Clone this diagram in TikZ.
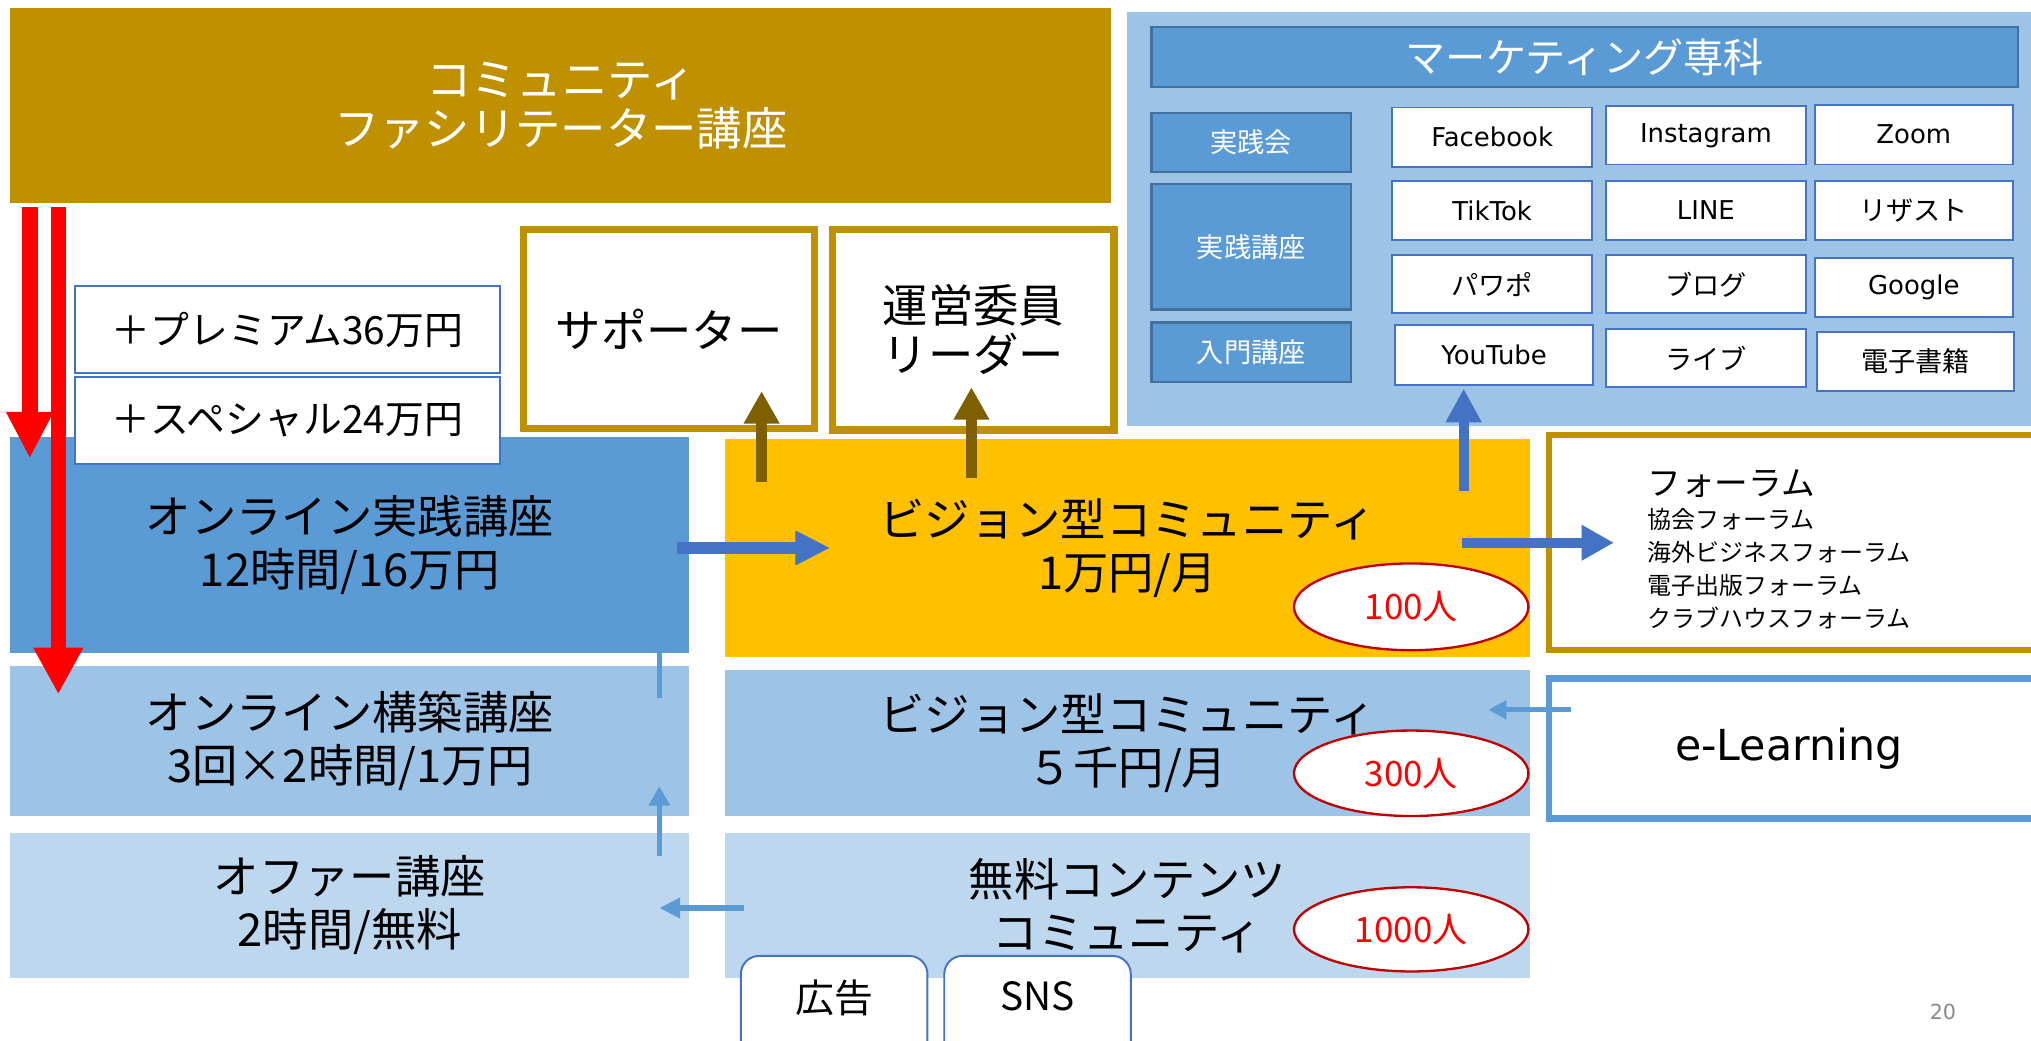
\documentclass[tikz,border=0pt]{standalone}
\usepackage{fontspec}
\setmainfont{Noto Sans CJK JP}
\newfontfamily\lat{DejaVu Sans}
\usetikzlibrary{arrows.meta,shapes.geometric}
\definecolor{cGoldD}{HTML}{BF9000}
\definecolor{cGold}{HTML}{FFC000}
\definecolor{cBlue}{HTML}{5B9BD5}
\definecolor{cBlueL}{HTML}{9DC3E6}
\definecolor{cBlueLL}{HTML}{BDD7EE}
\definecolor{cBlueD}{HTML}{4472C4}
\definecolor{cBlueB}{HTML}{41719C}
\definecolor{cBrown}{HTML}{7F6000}
\definecolor{cRedD}{HTML}{C00000}
\definecolor{cGray}{HTML}{898989}
\newcommand\fsz[2]{\fontsize{#1}{#2}\selectfont}
\begin{document}
\begin{tikzpicture}[x=1pt,y=-1pt,
  bx/.style 2 args={minimum width=#1pt,minimum height=#2pt,inner sep=0pt,outer sep=0pt,align=center},
  bigtxt/.style={font=\fsz{35}{41}},
  plusbox/.style={draw=cBlueD,line width=1.5pt,fill=white,font=\fsz{30}{34}},
  goldframe/.style={draw=cGoldD,line width=5.5pt,fill=white,font=\fsz{35}{38}},
  mkbox/.style={draw=cBlueB,line width=1.8pt,fill=cBlue,text=white},
  gridbox/.style={draw=cBlueD,line width=1.5pt,fill=white},
  jp/.style={font=\fsz{21}{24}},
  en/.style={font=\lat\fsz{20}{24}},
  ell/.style={ellipse,draw=cRedD,line width=1.8pt,fill=white,text=red,font=\fsz{27}{30}},
  pill/.style={draw=cBlueD,line width=1.5pt,fill=white,rounded corners=14pt,font=\fsz{30}{34}},
  bigarrow/.style={line width=#1pt},
]
\useasboundingbox (0,0) rectangle (1568,803);

% top title
\node[bx={850}{151},fill=cGoldD,text=white,font=\fsz{35}{38}] (top) at (433,81.5) {コミュニティ\\ファシリテーター講座};

% left column
\node[bx={524}{167},fill=cBlue,bigtxt] (jissen) at (270,420.5) {オンライン実践講座\\12時間/16万円};
\node[bx={524}{116},fill=cBlueL,bigtxt] (kouchiku) at (270,572) {オンライン構築講座\\3回×2時間/1万円};
\node[bx={524}{112},fill=cBlueLL,bigtxt] (offer) at (270,699) {オファー講座\\2時間/無料};

\node[bx={328}{67},plusbox] (prem) at (222,254.5) {＋プレミアム36万円};
\node[bx={328}{67},plusbox] (spec) at (222,324.5) {＋スペシャル24万円};

% middle column
\node[bx={621}{168},fill=cGold,bigtxt] (vis1) at (870.5,423) {ビジョン型コミュニティ\\1万円/月};
\node[bx={621}{113},fill=cBlueL,bigtxt] (vis2) at (870.5,573.5) {ビジョン型コミュニティ\\５千円/月};
\node[bx={621}{112},fill=cBlueLL,bigtxt] (muryo) at (870.5,699) {無料コンテンツ\\コミュニティ};

\node[bx={181}{67},ell] (n100) at (1089.5,468.5) {100人};
\node[bx={181}{66},ell] (n300) at (1089.5,597) {300人};
\node[bx={181}{65},ell] (n1000) at (1089.5,717.5) {1000人};

\node[bx={144}{80},pill] (kokoku) at (644,778) {\raisebox{18pt}{広告}};
\node[bx={144}{80},pill] (sns) at (801,778) {\raisebox{18pt}{SNS}};

% supporter / leader
\node[bx={225}{154},goldframe] (sup) at (516.5,254) {サポーター};
\node[bx={217}{155},goldframe] (unei) at (751.5,254.5) {運営委員\\リーダー};

% marketing panel
\node[bx={698}{320},fill=cBlueL] (mk) at (1219,169) {};
\node[bx={669}{46},mkbox,font=\fsz{31}{34}] (mkhead) at (1223.5,44) {マーケティング専科};
\node[bx={154}{46},mkbox,jp] (jkai) at (966,110) {実践会};
\node[bx={154}{97},mkbox,jp] (jkoza) at (966,190.5) {実践講座};
\node[bx={154}{46},mkbox,jp] (nyumon) at (966,272) {入門講座};

\node[bx={154}{46},gridbox,en] (fb) at (1152,106) {Facebook};
\node[bx={154}{45},gridbox,en] (ig) at (1317,104.5) {Instagram};
\node[bx={153}{46},gridbox,en] (zm) at (1477.5,104) {Zoom};
\node[bx={154}{45},gridbox,en] (tt) at (1152,162.5) {TikTok};
\node[bx={154}{45},gridbox,en] (ln) at (1317,162.5) {LINE};
\node[bx={153}{45},gridbox,jp] (lz) at (1477.5,162.5) {リザスト};
\node[bx={154}{45},gridbox,jp] (pp) at (1152,219.5) {パワポ};
\node[bx={154}{45},gridbox,jp] (bl) at (1317,219.5) {ブログ};
\node[bx={153}{46},gridbox,en] (gg) at (1477.5,222) {Google};
\node[bx={153}{46},gridbox,en] (yt) at (1153.5,274) {YouTube};
\node[bx={154}{45},gridbox,jp] (lv) at (1317,276.5) {ライブ};
\node[bx={152}{46},gridbox,jp] (eb) at (1479,279) {電子書籍};

% forum & e-learning
\node[bx={384}{166},draw=cGoldD,line width=5pt,fill=white] (forum) at (1388,419) {};
\node[inner sep=0pt,outer sep=0pt,align=left,anchor=west,font=\fsz{18.5}{25.5}] (forumtxt) at (1272,424)
  {{\fsz{26}{30}フォーラム}\\協会フォーラム\\海外ビジネスフォーラム\\電子出版フォーラム\\クラブハウスフォーラム};
\node[bx={384}{108},draw=cBlue,line width=5pt,fill=white,font=\lat\fsz{33}{36}] (elearn) at (1388,578) {\hspace*{-14pt}e-Learning};

% page number
\node[font=\lat\fsz{16}{18},text=cGray] (pnum) at (1500,781) {20};

% arrow coordinates
\coordinate (r1s) at (23,160);   \coordinate (r1e) at (23,354);
\coordinate (r2s) at (45,160);   \coordinate (r2e) at (45,536);
\coordinate (b1s) at (588,372);  \coordinate (b1e) at (588,302);
\coordinate (b2s) at (750,369);  \coordinate (b2e) at (750,299);
\coordinate (u1s) at (1130,379); \coordinate (u1e) at (1130,300);
\coordinate (h1s) at (523,423);  \coordinate (h1e) at (641,423);
\coordinate (h2s) at (1129,419); \coordinate (h2e) at (1246,419);
\coordinate (e1s) at (1213,548); \coordinate (e1e) at (1149,548);
\coordinate (o1s) at (509,661);  \coordinate (o1e) at (509,607);
\coordinate (l1s) at (509,539);  \coordinate (l1e) at (509,504);
\coordinate (m1s) at (574,701);  \coordinate (m1e) at (509,701);

% red arrows
\draw[red,line width=12pt,-{Triangle[width=34pt,length=36pt]}] (r1s) -- (r1e);
\draw[red,line width=12pt,-{Triangle[width=36pt,length=36pt]}] (r2s) -- (r2e);
% brown arrows
\draw[cBrown,line width=9pt,-{Triangle[width=26pt,length=25pt]}] (b1s) -- (b1e);
\draw[cBrown,line width=9pt,-{Triangle[width=26pt,length=25pt]}] (b2s) -- (b2e);
% dark blue arrows
\draw[cBlueD,line width=8pt,-{Triangle[width=26pt,length=26pt]}] (u1s) -- (u1e);
\draw[cBlueD,line width=9pt,-{Triangle[width=25pt,length=27pt]}] (h1s) -- (h1e);
\draw[cBlueD,line width=8pt,-{Triangle[width=26pt,length=25pt]}] (h2s) -- (h2e);
% light blue thin arrows
\draw[cBlue,line width=4pt,-{Triangle[width=14pt,length=14pt]}] (e1s) -- (e1e);
\draw[cBlue,line width=3.5pt,-{Triangle[width=16pt,length=15pt]}] (o1s) -- (o1e);
\draw[cBlue,line width=3.5pt] (l1s) -- (l1e);
\draw[cBlue,line width=4.5pt,-{Triangle[width=15pt,length=16pt]}] (m1s) -- (m1e);
\end{tikzpicture}
\end{document}
